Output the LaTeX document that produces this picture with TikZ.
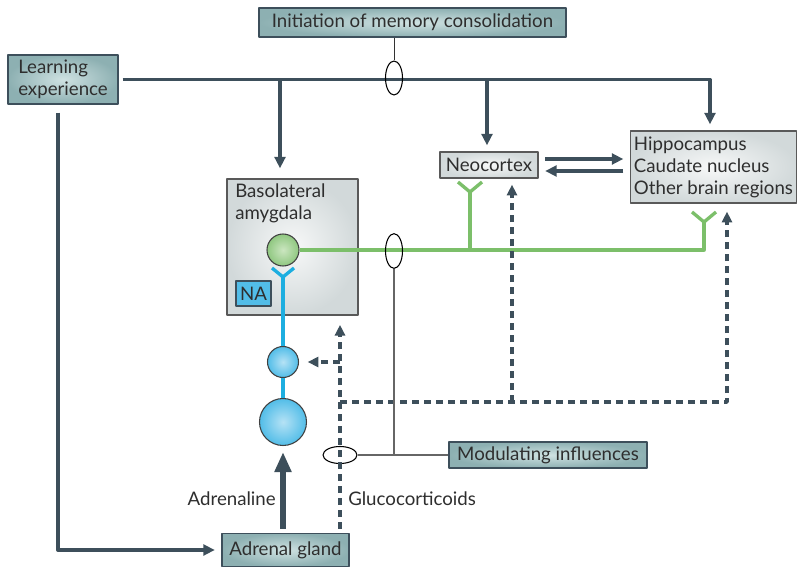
\documentclass[tikz,border=0pt]{standalone}
\usepackage{fontspec}
\setmainfont{Lato}
\usetikzlibrary{arrows.meta,shapes.geometric}

\definecolor{linegray}{HTML}{3D4F5B}
\definecolor{txtgray}{HTML}{2E2E2E}
\definecolor{tealin}{HTML}{CFE2E2}
\definecolor{tealout}{HTML}{8DB0B2}
\definecolor{grayin}{HTML}{F7F8F8}
\definecolor{grayout}{HTML}{D2D9DA}
\definecolor{synapse}{HTML}{7CBF6A}
\definecolor{greenin}{HTML}{CBE6C0}
\definecolor{greenout}{HTML}{8FC780}
\definecolor{nerve}{HTML}{1DAEE0}
\definecolor{bluein}{HTML}{B5E2F5}
\definecolor{blueout}{HTML}{52BDE8}

\begin{document}
\begin{tikzpicture}[x=0.75pt,y=-0.75pt,join=round,
    every node/.style={font=\fontsize{14}{16.5}\selectfont,text=txtgray},
    tealbox/.style={draw=linegray,line width=0.8pt,inner color=tealin,outer color=tealout,inner sep=0pt,align=left},
    graybox/.style={draw=black!65,line width=0.8pt,inner color=grayin,outer color=grayout,inner sep=0pt,align=left},
    flow/.style={draw=linegray,line width=2.5pt,-{Triangle[length=8.5pt,width=8pt]},shorten >=5pt},
    bigflow/.style={draw=linegray,line width=4pt,-{Triangle[length=15pt,width=12pt]},shorten >=4.5pt,shorten <=3pt},
    dashflow/.style={draw=linegray,line width=2.5pt,dash pattern=on 5.25pt off 3.75pt,-{Triangle[length=8pt,width=7.5pt]},shorten >=5pt},
    thinline/.style={draw=black!60,line width=0.8pt},
    loopmark/.style={ellipse,draw=black,line width=0.8pt,inner sep=0pt},
    greenline/.style={draw=synapse,line width=2.5pt},
    blueline/.style={draw=nerve,line width=2.5pt},
    gcell/.style={circle,draw=black!75,line width=0.8pt,inner color=greenin,outer color=greenout,inner sep=0pt},
    bcell/.style={circle,draw=black!75,line width=0.8pt,inner color=bluein,outer color=blueout,inner sep=0pt}]
  \useasboundingbox (0,0) rectangle (797,567);

  % boxes
  \node[tealbox,minimum width=230.25pt,minimum height=21.75pt] (init) at (412.5,22.5) {Initiation of memory consolidation};
  \node[tealbox,minimum width=82.5pt,minimum height=36.75pt] (learn) at (63,79.5) {Learning\\experience};
  \node[graybox,minimum width=73.5pt,minimum height=19.5pt] (neo) at (489,165) {Neocortex};
  \node[graybox,minimum width=124.5pt,minimum height=54pt] (hippo) at (713.5,167) {Hippocampus\\Caudate nucleus\\Other brain regions};
  \node[graybox,minimum width=98.25pt,minimum height=102pt] (bla) at (292.5,247) {};
  \node[anchor=north west,align=left,inner sep=0pt] (blalabel) at (235,183) {Basolateral\\amygdala};
  \node[draw=linegray,line width=0.8pt,fill=blueout,minimum width=26.25pt,minimum height=18.75pt,inner sep=0pt] (na) at (253.5,293.5) {NA};
  \node[tealbox,minimum width=148.5pt,minimum height=19.5pt] (mod) at (548,455) {Modulating influences};
  \node[tealbox,minimum width=95.25pt,minimum height=24.75pt] (adrenal) at (285.5,550) {Adrenal gland};

  % learning experience to the brain
  \coordinate (blain) at (280,179);
  \coordinate (neoin) at (487,152);
  \coordinate (hipin) at (710,131);
  \draw[flow,shorten <=3pt] (learn.east) -- (learn.east -| hipin) -- (hipin);
  \draw[flow,shorten >=8pt] (learn.east -| blain) -- (blain);
  \draw[flow] (learn.east -| neoin) -- (neoin);
  \node[loopmark,minimum width=12.75pt,minimum height=25.5pt] (initring) at (394,78) {};
  \draw[thinline,draw=black!80,line width=0.6pt] (init.south -| initring) -- (initring.north);

  % neocortex <-> hippocampus
  \draw[flow,shorten <=5pt] ([yshift=4.5pt]neo.east) -- ([yshift=4.5pt]neo.east -| hippo.west);
  \draw[flow,shorten <=5pt] ([yshift=-4.5pt]neo.east -| hippo.west) -- ([yshift=-4.5pt]neo.east);

  % learning experience to adrenal gland
  \coordinate (learncorner) at (58,550);
  \draw[flow,shorten <=6pt] (learn.south -| learncorner) -- (learncorner) -- (adrenal.west);

  % amygdala projections
  \coordinate (neoy) at (470,192);
  \coordinate (hipy) at (704,222);
  \node[gcell,minimum size=24pt] (gc) at (283,250) {};
  \draw[greenline] (gc.east) -- (gc.east -| hipy) -- (hipy);
  \draw[greenline] (gc.east -| neoy) -- (neoy);
  \draw[greenline] (-12,-10) ++(neoy) -- (neoy) -- ++(12,-10);
  \draw[greenline] (-12,-10) ++(hipy) -- (hipy) -- ++(12,-10);
  \node[loopmark,minimum width=12.75pt,minimum height=26pt] (greenring) at (394,251) {};

  % noradrenergic cells
  \coordinate (blay) at (283,277);
  \node[bcell,minimum size=23.25pt] (bc1) at (283,362) {};
  \node[bcell,minimum size=35.25pt] (bc2) at (283,422) {};
  \draw[blueline] (blay) -- (bc1.north);
  \draw[blueline] (-11,-9) ++(blay) -- (blay) -- ++(11,-9);
  \draw[blueline] (bc1.south) -- (bc2.north);
  \draw[bigflow] (bc2 |- adrenal.north) -- (bc2.south);
  \node[anchor=east,inner sep=0pt] (adrlabel) at (276,499) {Adrenaline};

  % glucocorticoids
  \node[loopmark,minimum width=25.5pt,minimum height=12.75pt] (gluring) at (340,455) {};
  \coordinate (dashjoin) at (340,402);
  \coordinate (neodash) at (512,178);
  \coordinate (hipdash) at (727,203);
  \draw[dashflow,shorten <=3pt,shorten >=7pt] (adrenal.north -| gluring) -- (bla.south -| gluring);
  \draw[dashflow,shorten >=6.5pt] (bc1 -| gluring) -- (bc1.east);
  \draw[dashflow,shorten >=6.5pt] (dashjoin) -| (hipdash);
  \draw[dashflow] (dashjoin -| neodash) -- (neodash);
  \node[anchor=west,inner sep=0pt] (glulabel) at (348,499) {Glucocorticoids};

  % modulating influences
  \draw[thinline] (greenring.south) -- (greenring.south |- mod.west);
  \draw[thinline] (gluring.east) -- (mod.west);
\end{tikzpicture}
\end{document}
